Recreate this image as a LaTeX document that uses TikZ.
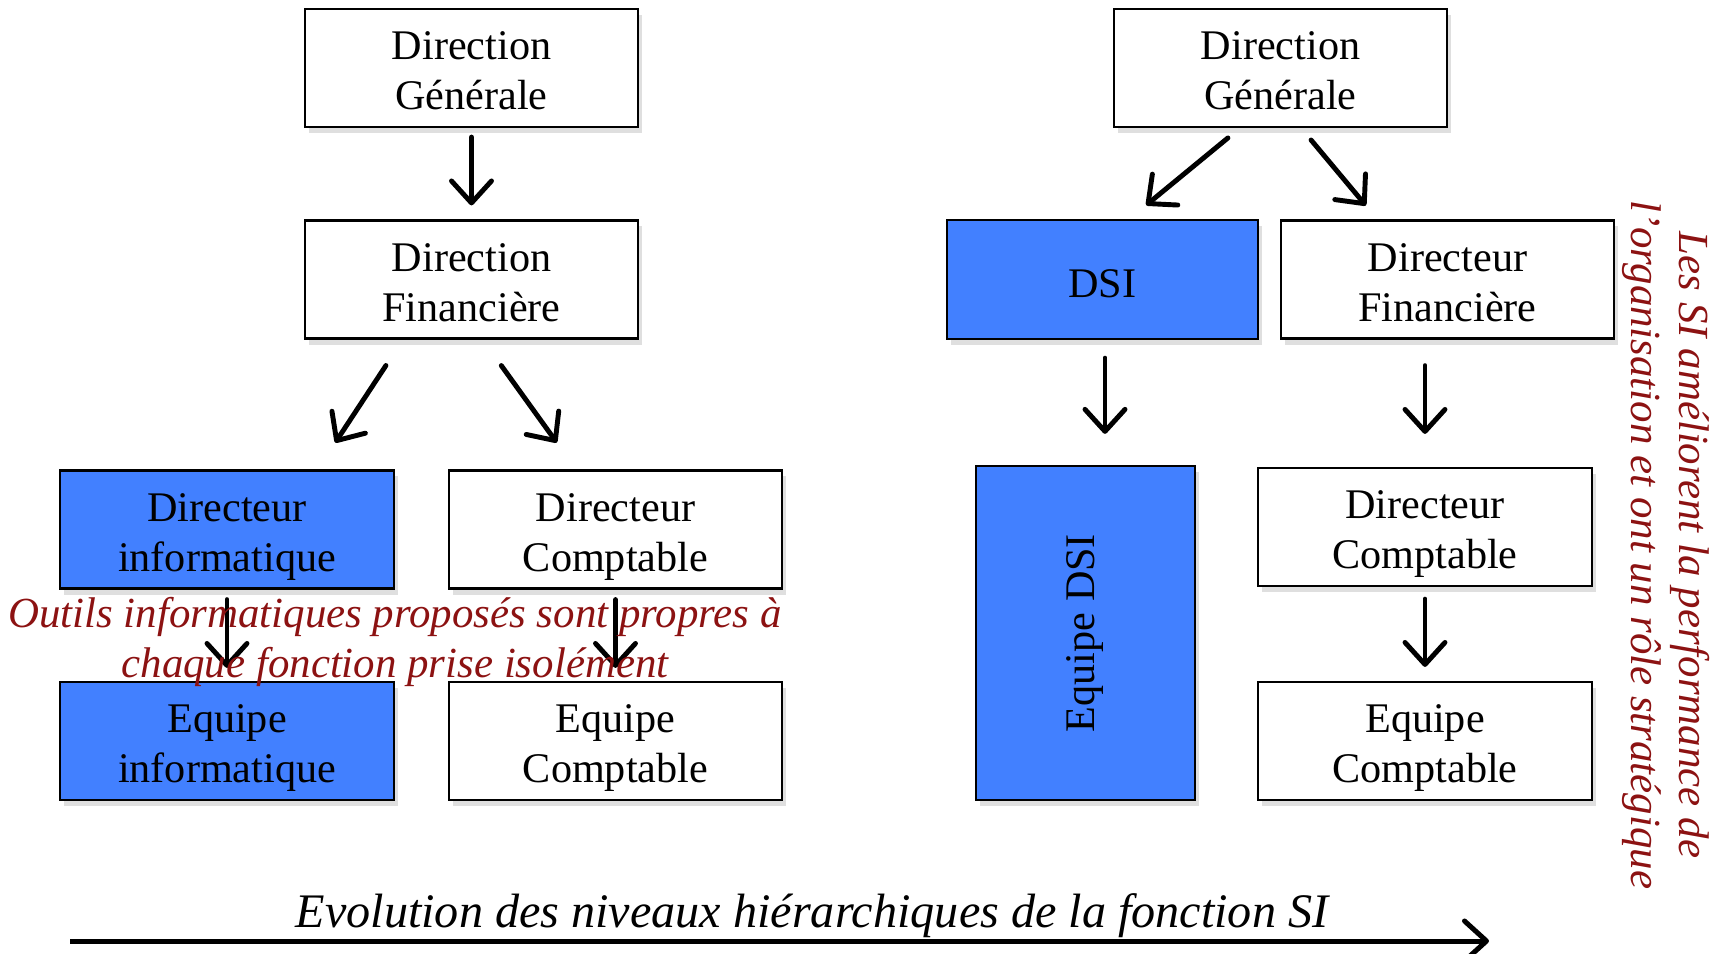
\documentclass[tikz,border=0pt]{standalone}
\usepackage{fontspec}
\setmainfont{Liberation Serif}
\usepackage{tikz}
\usetikzlibrary{arrows.meta}
\usetikzlibrary{shadows}
\definecolor{bleuSI}{RGB}{66,128,255}
\definecolor{rougeSI}{RGB}{140,18,18}
\tikzset{boite/.style={draw,line width=0.6pt,fill=white,align=center,inner sep=0pt,
    font=\fontsize{12}{14.2}\selectfont,minimum width=33.3mm,minimum height=11.8mm,
    text height=23.8pt,text depth=0pt,
    drop shadow={opacity=0.25,shadow xshift=0.4mm,shadow yshift=-0.6mm}}}
\tikzset{bleu/.style={fill=bleuSI}}
\tikzset{fleche/.style={->,line width=1.4pt,line cap=round}}
\tikzset{note/.style={text=rougeSI,align=center,font=\fontsize{12.2}{14.3}\selectfont\itshape}}

\begin{document}
\begin{tikzpicture}[x=0.01cm,y=-0.01cm,>={Straight Barb[length=2.2mm,width=4mm,round]}]
          \useasboundingbox (0,0) rectangle (1720,954);
          % avant : le SI depend de la direction financiere
          \node[boite] (dgL) at (471.5,68) {Direction\\Générale};
          \node[boite] (dfL) at (471.5,279.5) {Direction\\Financière};
          \node[boite,bleu] (dirinfo) at (227,529.5) {Directeur\\informatique};
          \node[boite] (dircL) at (615.5,529.5) {Directeur\\Comptable};
          \node[boite,bleu] (eqinfo) at (227,741) {Equipe\\informatique};
          \node[boite] (eqcL) at (615.5,741) {Equipe\\Comptable};
          \draw[fleche,shorten <=0.9mm,shorten >=1.4mm] (dgL) -- (dfL);
          \draw[fleche,shorten <=3.1mm,shorten >=3.2mm] ([xshift=-6.85mm]dfL.south) -- ([xshift=9.06mm]dirinfo.north);
          \draw[fleche,shorten <=3.2mm,shorten >=3.3mm] ([xshift=1.11mm]dfL.south) -- ([xshift=-3.94mm]dircL.north);
          \draw[fleche,shorten <=1mm,shorten >=1.3mm] (dirinfo) -- (eqinfo);
          \draw[fleche,shorten <=1mm,shorten >=1.3mm] (dircL) -- (eqcL);
          \node[note] (outils) at (395,642) {Outils informatiques proposés sont propres à\\chaque fonction prise isolément};
          % apres : la DSI rattachee a la direction generale
          \node[boite] (dgR) at (1280.5,68) {Direction\\Générale};
          \node[boite,bleu,minimum width=31.1mm,minimum height=11.9mm,text height=10.5pt] (dsi) at (1102.5,279.5) {DSI};
          \node[boite] (dfR) at (1447.5,279.5) {Directeur\\Financière};
          \node[boite,bleu,minimum width=21.9mm,minimum height=33.4mm,text height=,text depth=] (eqdsi) at (1085.5,633) {\rotatebox{90}{Equipe DSI}};
          \node[boite] (dircR) at (1425,527) {Directeur\\Comptable};
          \node[boite] (eqcR) at (1425,741) {Equipe\\Comptable};
          \draw[fleche,shorten <=1.55mm,shorten >=2.17mm] ([xshift=-4.06mm]dgR.south) -- ([xshift=2.69mm]dsi.north);
          \draw[fleche,shorten <=1.55mm,shorten >=1.81mm] ([xshift=2.06mm]dgR.south) -- ([xshift=-7mm]dfR.north);
          \draw[fleche,shorten <=1.8mm,shorten >=3.1mm] ([xshift=0.25mm]dsi.south) -- ([xshift=0.25mm]dsi.south |- eqdsi.north);
          \draw[fleche,shorten <=2.6mm,shorten >=3.3mm] (dircR.north |- dfR.south) -- (dircR.north);
          \draw[fleche,shorten <=1.2mm,shorten >=1.4mm] (dircR) -- (eqcR);
          \node[note,rotate=-90,font=\fontsize{12.2}{13.6}\selectfont\itshape] (role) at (1666,545) {Les SI améliorent la performance de\\l’organisation et ont un rôle stratégique};
          % evolution
          \coordinate (debut) at (70,941);
          \coordinate (fin) at (1489,941);
          \draw[->,line width=0.5mm] (debut) -- (fin);
          \node[font=\fontsize{13.7}{16}\selectfont\itshape] (evol) at (812,916) {Evolution des niveaux hiérarchiques de la fonction SI};
        \end{tikzpicture}
\end{document}
